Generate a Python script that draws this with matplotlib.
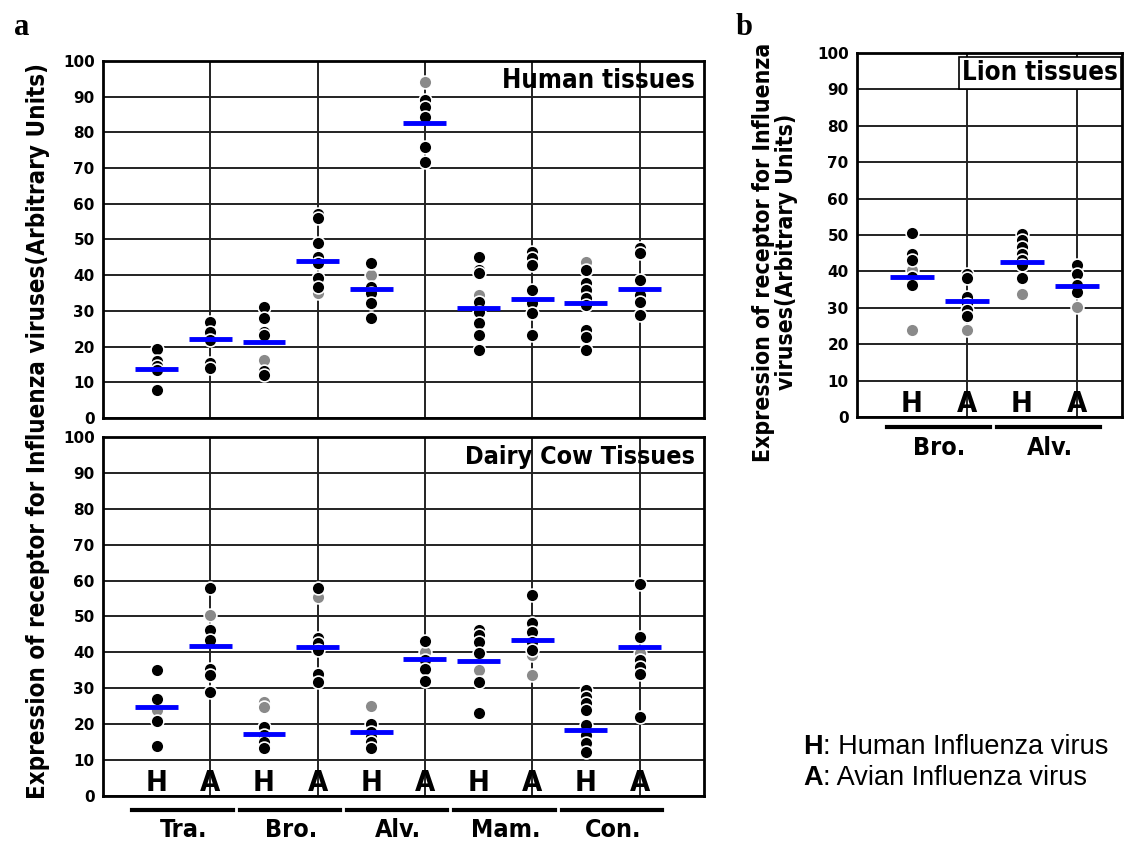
import matplotlib
matplotlib.use('Agg')
import matplotlib.pyplot as plt
import matplotlib.transforms as mtransforms
from matplotlib import font_manager as fm

# tissues and viruses, each tissue has an H column and an A column
groups = ['Tra.', 'Bro.', 'Alv.', 'Mam.', 'Con.']
lion_groups = ['Bro.', 'Alv.']
viruses = ['H', 'A']

# human tissues (columns: Tra H, Tra A, Bro H, Bro A, ...)
human_pts = [
    [19.3, 15.9, 14.5, 13.4, 7.8],
    [27, 24, 21.8, 15.4, 14],
    [31.2, 28.1, 24.2, 23.2, 13.2, 12],
    [57.1, 56, 48.9, 45.2, 43.3, 39.1, 36.8],
    [43.3, 36.8, 34.9, 32.1, 27.9],
    [89.1, 87.2, 84.4, 76, 71.8],
    [45.2, 41.5, 40.5, 32.6, 29.8, 26.5, 23.2, 19],
    [46.6, 44.7, 42.9, 35.9, 32.1, 29.3, 23.2],
    [41.5, 37.7, 35.9, 33.5, 31.7, 24.7, 22.8, 19],
    [47.5, 46.1, 38.7, 34.5, 32.6, 28.9],
]
human_faint = [[], [], [16.2], [35], [40.1], [94.2], [34.5], [], [43.8], []]
human_mean = [13.7, 22.1, 21.4, 43.9, 36.1, 82.7, 30.7, 33.4, 32.3, 36]

# dairy cow tissues
cow_pts = [
    [35.1, 26.9, 21, 13.9],
    [57.8, 46.2, 43.4, 35.5, 33.7, 29],
    [19.3, 17, 15.1, 13.3],
    [57.8, 43.9, 42.5, 40.6, 34.1, 31.8],
    [20, 17.9, 16.5, 15.1, 13.3],
    [43.2, 37.8, 35.5, 32.1],
    [46.2, 44.8, 42.9, 39.7, 31.8, 23],
    [55.9, 48.2, 45.7, 42.9, 40.6],
    [29.5, 27.6, 25.8, 23.9, 19.8, 17, 14.7, 12.3],
    [59, 44.3, 37.8, 36, 34.1, 22.1],
]
cow_faint = [[23.9], [50.4], [26.3, 24.9], [55.5], [25], [40.2], [35.1], [39.2, 33.7], [], [39.7]]
cow_mean = [24.9, 41.8, 17.4, 41.5, 17.7, 38.2, 37.7, 43.4, 18.4, 41.6]

# lion tissues
lion_pts = [
    [50.6, 44.9, 43.1, 38.5, 36.2],
    [39.4, 38.3, 33, 31.1, 29.3, 27.9],
    [50.4, 48.6, 46.7, 44.9, 43.1, 41.7, 38.3],
    [41.7, 39.4, 36.2, 34.3],
]
lion_faint = [[40.3, 24], [23.8], [33.9], [30.2]]
lion_mean = [38.5, 31.9, 42.7, 36]


# look for a bold condensed face, otherwise plain DejaVu bold a bit smaller
def find_narrow():
    for f in fm.fontManager.ttflist:
        w = f.weight if isinstance(f.weight, int) else fm.weight_dict.get(f.weight, 400)
        if w >= 600 and f.style == 'normal' and (
                'condensed' in str(f.stretch) or 'Narrow' in f.name or 'Condensed' in f.name):
            return f.fname
    return None


NARROW_FILE = find_narrow()
SHRINK = 1.0 if NARROW_FILE else 0.82


def nb(size):
    if NARROW_FILE:
        return fm.FontProperties(fname=NARROW_FILE, size=size)
    return fm.FontProperties(family='DejaVu Sans', weight='bold', size=size * SHRINK)


def draw_panel(ax, pts, faint, means, title, title_size, show_letters=True, boxed=False):
    n = len(pts)
    xs = list(range(1, n + 1))
    ax.set_xlim(0, n + 1.2)
    ax.set_ylim(0, 100)
    ax.set_yticks(range(0, 101, 10))
    ax.set_xticks([x for x in xs if x % 2 == 0])
    ax.set_xticklabels([])
    ax.tick_params(length=0, pad=6)
    for lab in ax.get_yticklabels():
        lab.set_fontweight('bold')
        lab.set_fontsize(11)
    ax.grid(True, color='#222222', lw=1.4)
    ax.set_axisbelow(True)
    for s in ax.spines.values():
        s.set_linewidth(2)
    for x, p, f, m in zip(xs, pts, faint, means):
        ax.scatter([x] * len(f), f, s=85, color='#8a8a8a', edgecolor='white', lw=1.2, zorder=3)
        ax.scatter([x] * len(p), p, s=85, color='black', edgecolor='white', lw=1.2, zorder=4)
        ax.hlines(m, x - 0.4, x + 0.4, color='#0000ff', lw=3.5, zorder=5)
    if show_letters:
        for x in xs:
            ax.text(x, 1.3, viruses[(x - 1) % 2], ha='center', va='baseline',
                    fontproperties=nb(21), zorder=6)
    box = dict(facecolor='white', edgecolor='black', lw=1.2, pad=2) if boxed else None
    ax.text(0.985, 92.5, title, transform=mtransforms.blended_transform_factory(ax.transAxes, ax.transData),
            ha='right', va='baseline', fontproperties=nb(title_size), zorder=6, bbox=box)


def group_labels(ax, names, yline, ytext):
    tr = ax.get_xaxis_transform()
    for i, name in enumerate(names):
        ax.plot([2 * i + 0.55, 2 * i + 2.42], [yline, yline], color='black', lw=3,
                transform=tr, clip_on=False)
        ax.text(2 * i + 1.5, ytext, name, transform=tr, ha='center', va='center',
                fontproperties=nb(18))


fig = plt.figure(figsize=(11.28, 8.41), dpi=100)

ax1 = fig.add_axes([0.0913, 0.503, 0.5328, 0.4245])
draw_panel(ax1, human_pts, human_faint, human_mean, 'Human tissues', 18.5, show_letters=False)

ax2 = fig.add_axes([0.0913, 0.0535, 0.5328, 0.4269])
draw_panel(ax2, cow_pts, cow_faint, cow_mean, 'Dairy Cow Tissues', 18)
group_labels(ax2, groups, -0.04, -0.095)

ax3 = fig.add_axes([0.7598, 0.504, 0.2349, 0.433])
draw_panel(ax3, lion_pts, lion_faint, lion_mean, 'Lion tissues', 18.5, boxed=True)
ax3.set_xlim(0, 4.82)
group_labels(ax3, lion_groups, -0.028, -0.085)

fig.text(0.034, 0.487, 'Expression of receptor for Influenza viruses(Arbitrary Units)',
         rotation=90, ha='center', va='center', fontproperties=nb(17.3))
fig.text(0.687, 0.70, 'Expression of receptor for Influenza\nviruses(Arbitrary Units)',
         rotation=90, ha='center', va='center', fontproperties=nb(16.5), linespacing=1.0)

fig.text(0.012, 0.958, 'a', fontsize=22, fontweight='bold', family='Liberation Serif')
fig.text(0.652, 0.958, 'b', fontsize=22, fontweight='bold', family='Liberation Serif')

# key for H / A
for yy, key, desc in [(0.103, 'H', ': Human Influenza virus'), (0.067, 'A', ': Avian Influenza virus')]:
    t = fig.text(0.712, yy, key, fontsize=19.5, fontweight='bold', family='Liberation Sans')
    plt.annotate(desc, xy=(1, 0), xycoords=t, va='bottom', ha='left',
                 fontsize=19.5, family='Liberation Sans')

fig.savefig('out.png', dpi=100)
